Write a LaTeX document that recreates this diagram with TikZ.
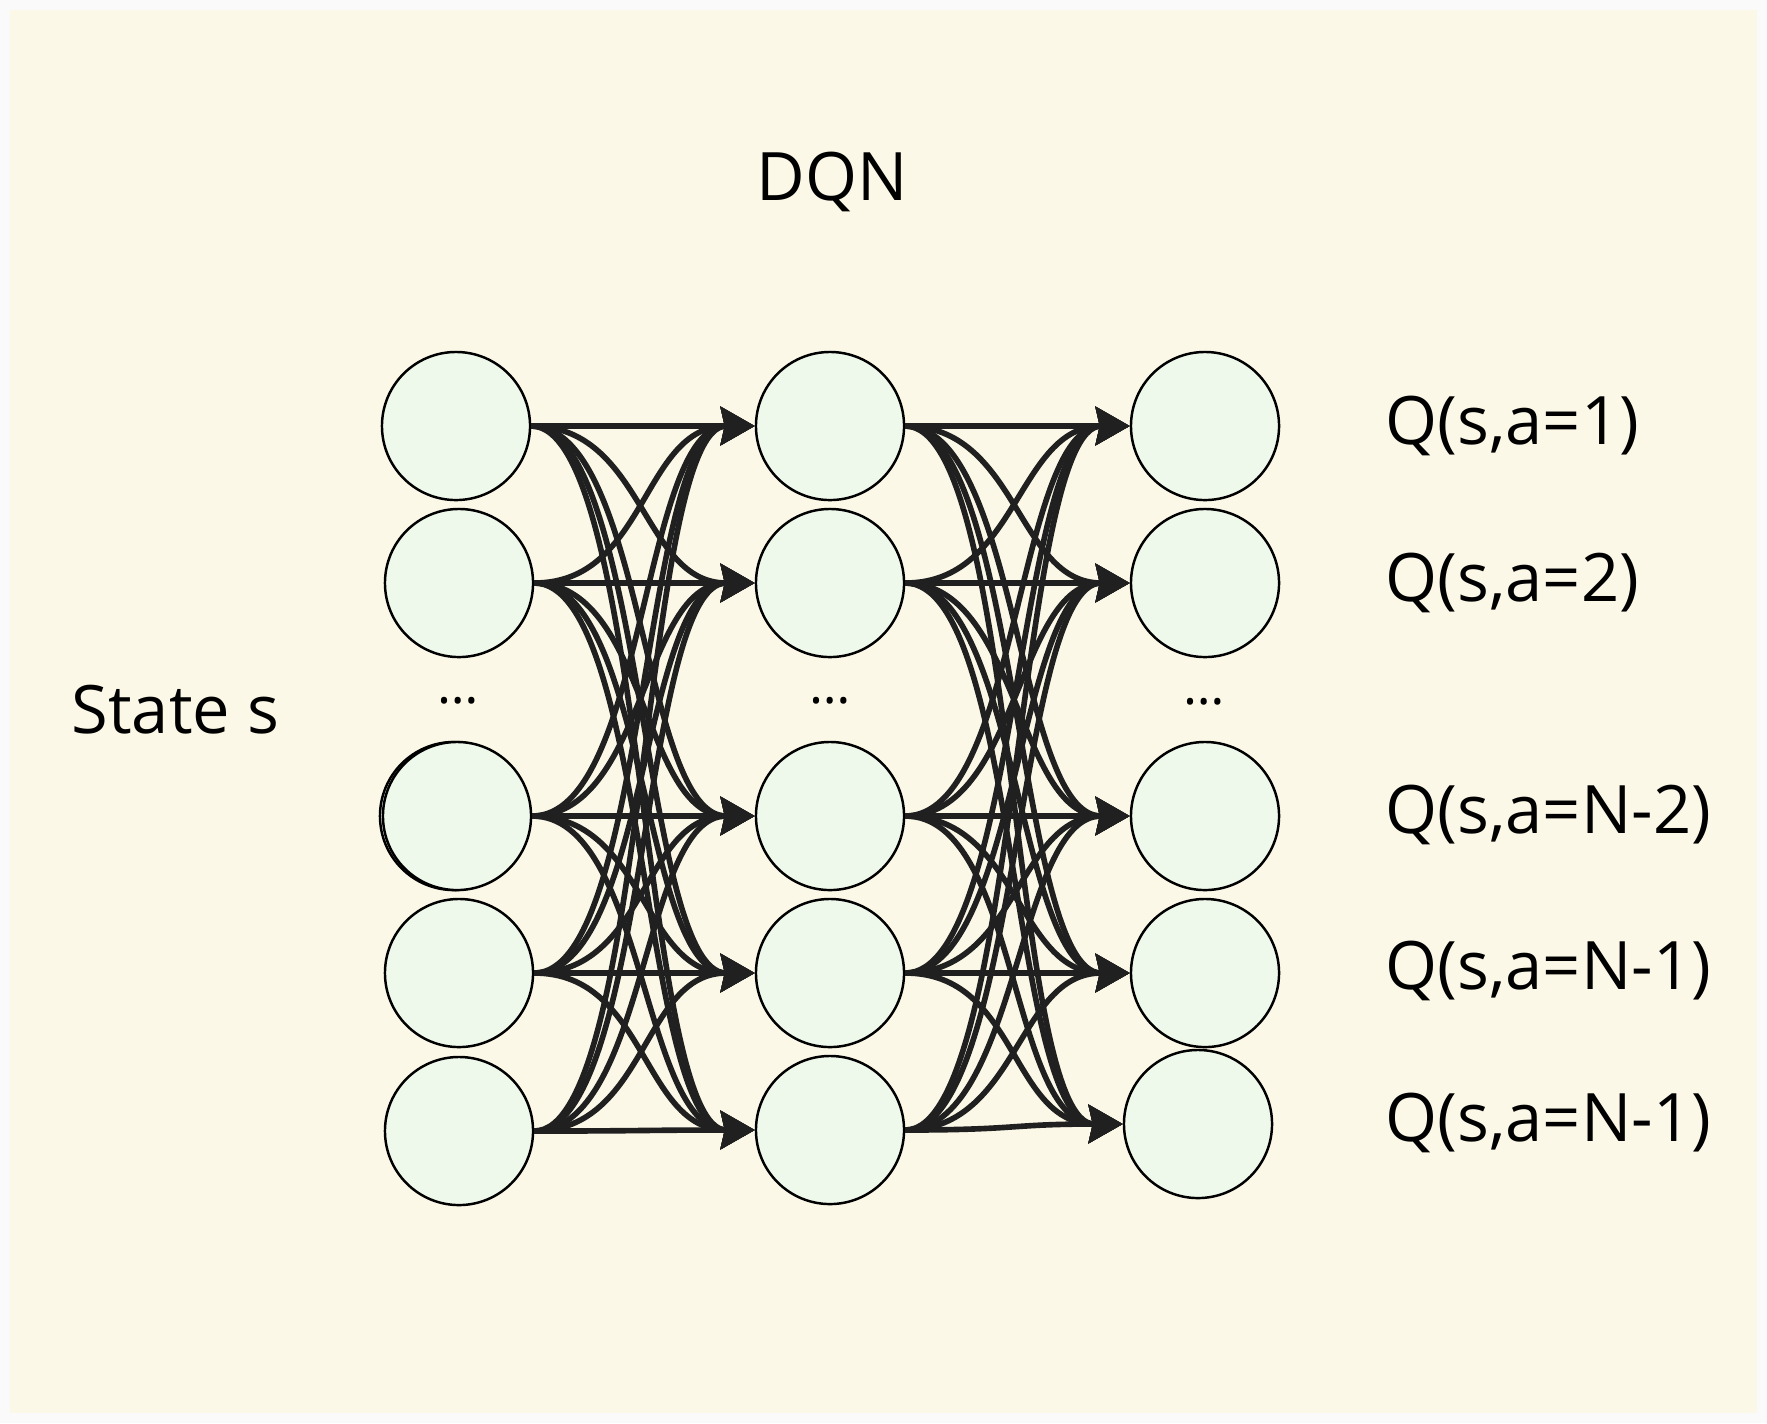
\documentclass[tikz,border=0pt]{standalone}
\usepackage{fontspec}
\setmainfont{Open Sans}
\usepackage{tikz}
\usetikzlibrary{arrows.meta,positioning}
\definecolor{frame}{HTML}{FAFAFA}
\definecolor{paper}{HTML}{FBF8E7}
\definecolor{mint}{HTML}{EFF9EB}
\definecolor{wire}{HTML}{202020}
\tikzstyle{neuron}=[circle,draw=black,line width=0.7pt,fill=mint,minimum size=1.48cm,inner sep=0pt]
\tikzstyle{link}=[-{Stealth[length=3.4mm,width=3.8mm,inset=0.4mm]},draw=wire,line width=1.6pt]
\tikzstyle{qtext}=[inner sep=0pt,anchor=west,font=\fontsize{19}{23}\selectfont]
\tikzstyle{dots}=[inner sep=0pt,font=\fontsize{15}{18}\selectfont]

\begin{document}
\begin{tikzpicture}[x=0.01cm,y=-0.01cm]
  % fond
  \fill[frame] (0,0) rectangle (1767,1423);
  \fill[paper] (10,10) rectangle (1757,1413);

  \node[qtext,anchor=center] (title) at (832,182) {DQN};
  \node[qtext] (state) at (71,710) {State s};

  % couche d'entree
  \draw[line width=0.7pt,fill=mint] (454,816) circle (0.74cm);
  \foreach \n/\x/\y in {1/456/426, 2/459/583, 3/457/816, 4/459/973, 5/459/1131} {
    \node[neuron] (I\n) at (\x,\y) {};
  }
  % couche cachee
  \foreach \n/\y in {1/426, 2/583, 3/816, 4/973, 5/1130} {
    \node[neuron] (H\n) at (830,\y) {};
  }
  % couche de sortie
  \foreach \n/\x/\y in {1/1205/426, 2/1205/583, 3/1205/816, 4/1205/973, 5/1198/1124} {
    \node[neuron] (O\n) at (\x,\y) {};
  }

  \node[dots] (d1) at (458,701) {\ldots};
  \node[dots] (d2) at (830,701) {\ldots};
  \node[dots] (d3) at (1204,702) {\ldots};

  % connexions
  \foreach \from in {1,...,5}{
    \foreach \to in {1,...,5}{
      \draw[link] (I\from.east) .. controls +(113,0) and +(-113,0) .. (H\to.west);
      \draw[link] (H\from.east) .. controls +(113,0) and +(-113,0) .. (O\to.west);
    }
  }

  % sorties
  \node[qtext] (q1) at (1385,426) {Q(s,a=1)};
  \node[qtext] (q2) at (1385,583) {Q(s,a=2)};
  \node[qtext] (q3) at (1385,815) {Q(s,a=N-2)};
  \node[qtext] (q4) at (1385,971) {Q(s,a=N-1)};
  \node[qtext] (q5) at (1385,1123) {Q(s,a=N-1)};
\end{tikzpicture}
\end{document}
